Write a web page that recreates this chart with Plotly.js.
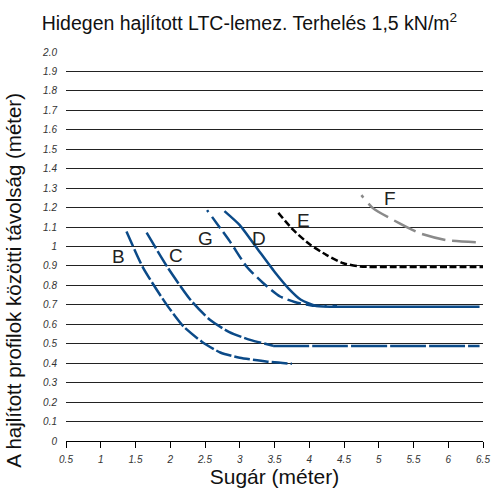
<!DOCTYPE html>
<html>
<head>
<meta charset="utf-8">
<script src="https://cdn.plot.ly/plotly-3.0.1.min.js"></script>
<style>html,body{margin:0;padding:0;background:#fff;}#chart{width:491px;height:491px;}</style>
</head>
<body>
<div id="chart"></div>
<script>
// ---- data ----
const bX = [1.37, 1.61, 1.95, 2.19, 2.45, 2.72, 3.0, 3.4, 3.75];
const bY = [1.077, 0.89, 0.70, 0.589, 0.512, 0.455, 0.428, 0.408, 0.397];

const cCurveX = [1.66, 1.97, 2.29, 2.57, 2.85, 3.15, 3.48];
const cCurveY = [1.071, 0.888, 0.726, 0.623, 0.56, 0.52, 0.49];
const cFlatX = [3.48, 4.5, 5.5, 6.45];
const cFlatY = [0.488, 0.488, 0.488, 0.488];

const dX = [2.78, 3.0, 3.25, 3.5, 3.7, 3.88, 4.1, 4.5, 5.5, 6.45];
const dY = [1.182, 1.11, 0.99, 0.87, 0.785, 0.726, 0.694, 0.69, 0.69, 0.69];

const gX = [2.53, 2.86, 3.1, 3.34, 3.58, 3.79, 4.03, 4.4];
const gY = [1.187, 1.025, 0.896, 0.811, 0.743, 0.715, 0.697, 0.694];

const eX = [3.555, 3.77, 4.01, 4.25, 4.49, 4.73, 5.2, 6.0, 6.5];
const eY = [1.173, 1.085, 1.01, 0.956, 0.914, 0.897, 0.895, 0.895, 0.895];

const fX = [4.75, 4.92, 5.3, 5.59, 5.97, 6.5];
const fY = [1.264, 1.196, 1.119, 1.068, 1.033, 1.02];

const curveLabels = ["B", "C", "G", "D", "E", "F"];
const labelX = [1.256, 2.08, 2.50, 3.28, 3.91, 5.16];
const labelY = [0.948, 0.953, 1.042, 1.042, 1.132, 1.248];

const xTickVals = [0.5, 1, 1.5, 2, 2.5, 3, 3.5, 4, 4.5, 5, 5.5, 6, 6.5];
const xTickText = ["0.5", "1", "1.5", "2", "2.5", "3", "3.5", "4", "4.5", "5", "5.5", "6", "6.5"];
const yTickVals = [0, 0.1, 0.2, 0.3, 0.4, 0.5, 0.6, 0.7, 0.8, 0.9, 1, 1.1, 1.2, 1.3, 1.4, 1.5, 1.6, 1.7, 1.8, 1.9, 2.0];
const yTickText = ["0", "0.1", "0.2", "0.3", "0.4", "0.5", "0.6", "0.7", "0.8", "0.9", "1", "1.1", "1.2", "1.3", "1.4", "1.5", "1.6", "1.7", "1.8", "1.9", "2.0"];

const titleText = "Hidegen hajlított LTC-lemez. Terhelés 1,5 kN/m<sup>2</sup>";
const xTitle = "Sugár (méter)";
const yTitle = "A hajlított profilok közötti távolság (méter)";

// ---- styles ----
const BLUE = "#0b4a88";
const mainFont = "Liberation Sans, Arial, sans-serif";
const tickFont = {family: "Liberation Sans Narrow, Arial Narrow, Liberation Sans, Arial, sans-serif", size: 10, color: "#333", style: "italic"};

function tr(x, y, color, dash, width) {
  return {x: x, y: y, type: "scatter", mode: "lines",
    line: {color: color, width: width || 2.5, dash: dash, shape: "spline", smoothing: 0.6},
    hoverinfo: "skip", showlegend: false};
}

const traces = [
  tr(gX, gY, BLUE, "2px,6px,14px,5px,14px,5px,14px,5px,14px,5px,14px,5px,14px,5px,14px,5px,14px,5px"),
  tr(dX, dY, BLUE, "solid"),
  tr(bX, bY, BLUE, "16px,3px"),
  tr(cCurveX, cCurveY, BLUE, "18px,3px"),
  tr(cFlatX, cFlatY, BLUE, "36px,3px"),
  tr(eX, eY, "#000", "7px,3px"),
  tr(fX, fY, "#8a8a8a", "3px,8px,24px,7px,24px,7px,24px,7px,24px,7px")
];

const annotations = curveLabels.map((t, i) => ({
  x: labelX[i], y: labelY[i], xref: "x", yref: "y", text: t, showarrow: false,
  font: {family: mainFont, size: 19, color: "#222"}, xanchor: "center", yanchor: "middle"
}));
annotations.push({
  x: -0.125, y: 0.414, xref: "paper", yref: "paper", text: yTitle, showarrow: false,
  textangle: -90, font: {family: mainFont, size: 20.5, color: "#111"},
  xanchor: "center", yanchor: "middle"
});

const layout = {
  width: 491, height: 491,
  margin: {l: 66, r: 8, t: 51.5, b: 49.5},
  paper_bgcolor: "#fff", plot_bgcolor: "#fff",
  font: {family: mainFont, color: "#111"},
  title: {text: titleText, font: {family: mainFont, size: 19.5, color: "#111"},
    x: 0.508, xref: "container", xanchor: "center", y: 0.953, yref: "container", yanchor: "middle"},
  xaxis: {range: [0.5, 6.5], tickvals: xTickVals, ticktext: xTickText, tickfont: tickFont,
    showgrid: false, zeroline: false, showline: true, linecolor: "#000", linewidth: 1,
    ticks: "outside", ticklen: 6, tickcolor: "#000", tickwidth: 1, ticklabelstandoff: 3,
    title: {text: xTitle, font: {family: mainFont, size: 21, color: "#111"}, standoff: 5},
    fixedrange: true},
  yaxis: {range: [0, 2.0], tickvals: yTickVals, ticktext: yTickText, tickfont: tickFont,
    showgrid: true, gridcolor: "#222", gridwidth: 1, zeroline: false, showline: false,
    ticks: "", ticklabelstandoff: 8,
    fixedrange: true},
  annotations: annotations
};

Plotly.newPlot("chart", traces, layout, {displayModeBar: false, staticPlot: true});
</script>
</body>
</html>
